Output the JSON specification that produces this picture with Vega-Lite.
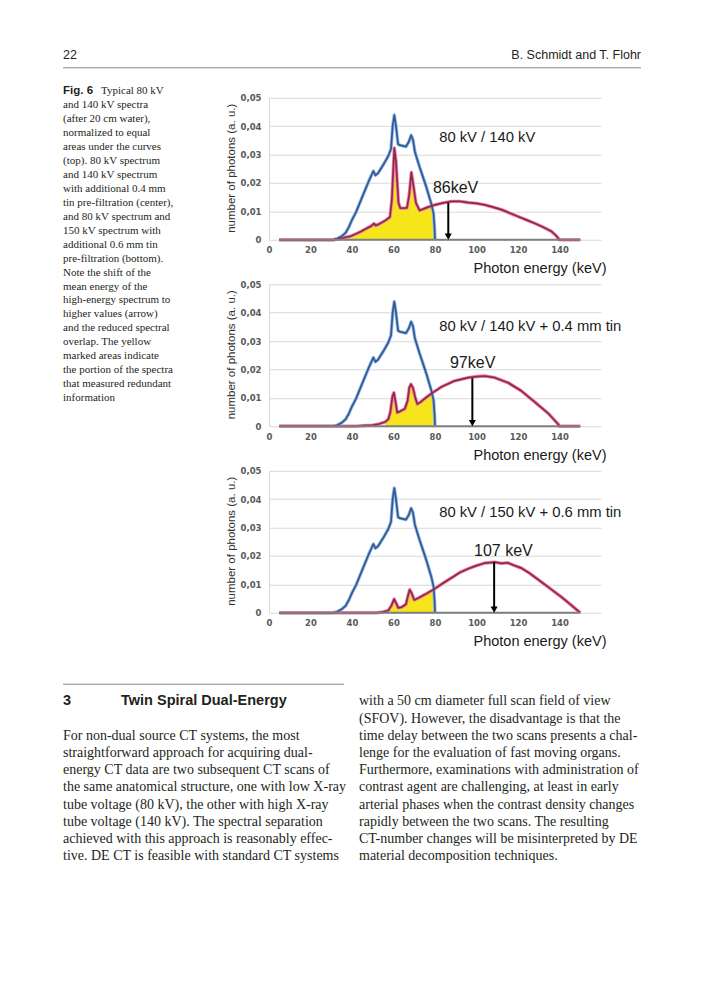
{
  "$schema": "https://vega.github.io/schema/vega-lite/v6.json",
  "background": "white",
  "padding": {"left": 62, "top": 48.75, "right": 0, "bottom": 0},
  "autosize": {"type": "pad"},
  "config": {"view": {"stroke": null}, "font": "Liberation Sans"},
  "bounds": "flush",
  "spacing": 76,
  "datasets": {
    "header": [{"side": "left", "text": "22"}, {"side": "right", "text": "B. Schmidt and T. Flohr"}],
    "caption": [
      {"line": 0, "text": "Typical 80 kV", "lead": "Fig. 6"},
      {"line": 1, "text": "and 140 kV spectra"},
      {"line": 2, "text": "(after 20 cm water),"},
      {"line": 3, "text": "normalized to equal"},
      {"line": 4, "text": "areas under the curves"},
      {"line": 5, "text": "(top). 80 kV spectrum"},
      {"line": 6, "text": "and 140 kV spectrum"},
      {"line": 7, "text": "with additional 0.4 mm"},
      {"line": 8, "text": "tin pre-filtration (center),"},
      {"line": 9, "text": "and 80 kV spectrum and"},
      {"line": 10, "text": "150 kV spectrum with"},
      {"line": 11, "text": "additional 0.6 mm tin"},
      {"line": 12, "text": "pre-filtration (bottom)."},
      {"line": 13, "text": "Note the shift of the"},
      {"line": 14, "text": "mean energy of the"},
      {"line": 15, "text": "high-energy spectrum to"},
      {"line": 16, "text": "higher values (arrow)"},
      {"line": 17, "text": "and the reduced spectral"},
      {"line": 18, "text": "overlap. The yellow"},
      {"line": 19, "text": "marked areas indicate"},
      {"line": 20, "text": "the portion of the spectra"},
      {"line": 21, "text": "that measured redundant"},
      {"line": 22, "text": "information"}
    ],
    "body": [
      {"col": 0, "line": 0, "style": "num", "text": "3"},
      {"col": 0, "line": 0, "style": "head", "text": "Twin Spiral Dual-Energy"},
      {"col": 0, "line": 2, "style": "body", "text": "For non-dual source CT systems, the most"},
      {"col": 0, "line": 3, "style": "body", "text": "straightforward approach for acquiring dual-"},
      {"col": 0, "line": 4, "style": "body", "text": "energy CT data are two subsequent CT scans of"},
      {"col": 0, "line": 5, "style": "body", "text": "the same anatomical structure, one with low X-ray"},
      {"col": 0, "line": 6, "style": "body", "text": "tube voltage (80 kV), the other with high X-ray"},
      {"col": 0, "line": 7, "style": "body", "text": "tube voltage (140 kV). The spectral separation"},
      {"col": 0, "line": 8, "style": "body", "text": "achieved with this approach is reasonably effec-"},
      {"col": 0, "line": 9, "style": "body", "text": "tive. DE CT is feasible with standard CT systems"},
      {"col": 1, "line": 0, "style": "body", "text": "with a 50 cm diameter full scan field of view"},
      {"col": 1, "line": 1, "style": "body", "text": "(SFOV). However, the disadvantage is that the"},
      {"col": 1, "line": 2, "style": "body", "text": "time delay between the two scans presents a chal-"},
      {"col": 1, "line": 3, "style": "body", "text": "lenge for the evaluation of fast moving organs."},
      {"col": 1, "line": 4, "style": "body", "text": "Furthermore, examinations with administration of"},
      {"col": 1, "line": 5, "style": "body", "text": "contrast agent are challenging, at least in early"},
      {"col": 1, "line": 6, "style": "body", "text": "arterial phases when the contrast density changes"},
      {"col": 1, "line": 7, "style": "body", "text": "rapidly between the two scans. The resulting"},
      {"col": 1, "line": 8, "style": "body", "text": "CT-number changes will be misinterpreted by DE"},
      {"col": 1, "line": 9, "style": "body", "text": "material decomposition techniques."}
    ]
  },
  "hconcat": [
    {
      "width": 130,
      "height": 515,
      "resolve": {"scale": {"x": "independent", "y": "independent"}},
      "layer": [
        {
          "data": {"name": "header"},
          "transform": [{"filter": "datum.side == 'left'"}],
          "mark": {"type": "text", "align": "left", "baseline": "middle", "font": "Liberation Sans", "fontSize": 12.5, "color": "#231f20"},
          "encoding": {"x": {"value": 0}, "y": {"value": -43}, "text": {"field": "text"}}
        },
        {
          "data": {"name": "header"},
          "transform": [{"filter": "datum.side == 'right'"}],
          "mark": {"type": "text", "align": "right", "baseline": "middle", "font": "Liberation Sans", "fontSize": 12.5, "color": "#231f20"},
          "encoding": {"x": {"value": 578}, "y": {"value": -43}, "text": {"field": "text"}}
        },
        {
          "data": {"name": "header"},
          "transform": [{"filter": "datum.side == 'left'"}],
          "mark": {"type": "rule", "color": "#8a8a8a", "strokeWidth": 1},
          "encoding": {"x": {"value": 0}, "x2": {"value": 578}, "y": {"value": -30}}
        },
        {
          "data": {"name": "caption"},
          "transform": [{"filter": "datum.line > 0"}],
          "mark": {"type": "text", "align": "left", "baseline": "middle", "font": "Liberation Serif", "fontSize": 11, "color": "#231f20"},
          "encoding": {
            "x": {"value": 0},
            "y": {"field": "line", "type": "quantitative", "scale": {"domain": [0, 22], "range": [-6.3, 300.3]}, "axis": null},
            "text": {"field": "text"}
          }
        },
        {
          "data": {"name": "caption"},
          "transform": [{"filter": "datum.line == 0"}],
          "mark": {"type": "text", "align": "left", "baseline": "middle", "font": "Liberation Serif", "fontSize": 11, "color": "#231f20", "dx": 38},
          "encoding": {
            "x": {"value": 0},
            "y": {"field": "line", "type": "quantitative", "scale": {"domain": [0, 22], "range": [-6.3, 300.3]}, "axis": null},
            "text": {"field": "text"}
          }
        },
        {
          "data": {"name": "caption"},
          "transform": [{"filter": "datum.line == 0"}],
          "mark": {"type": "text", "align": "left", "baseline": "middle", "font": "Liberation Sans", "fontWeight": "bold", "fontSize": 11.5, "color": "#231f20"},
          "encoding": {
            "x": {"value": 0},
            "y": {"field": "line", "type": "quantitative", "scale": {"domain": [0, 22], "range": [-6.3, 300.3]}, "axis": null},
            "text": {"field": "lead"}
          }
        },
        {
          "data": {"name": "body"},
          "transform": [{"filter": "datum.style == 'body'"}],
          "mark": {"type": "text", "align": "left", "baseline": "middle", "font": "Liberation Serif", "fontSize": 14, "color": "#231f20"},
          "encoding": {
            "x": {"field": "col", "type": "quantitative", "scale": {"domain": [0, 1], "range": [0, 296]}, "axis": null},
            "y": {"field": "line", "type": "quantitative", "scale": {"domain": [0, 10], "range": [603.7, 775.7]}, "axis": null},
            "text": {"field": "text"}
          }
        },
        {
          "data": {"name": "body"},
          "transform": [{"filter": "datum.style == 'num'"}],
          "mark": {"type": "text", "align": "left", "baseline": "middle", "font": "Liberation Sans", "fontWeight": "bold", "fontSize": 14.5, "color": "#231f20"},
          "encoding": {
            "x": {"field": "col", "type": "quantitative", "scale": {"domain": [0, 1], "range": [0, 296]}, "axis": null},
            "y": {"field": "line", "type": "quantitative", "scale": {"domain": [0, 10], "range": [603.7, 775.7]}, "axis": null},
            "text": {"field": "text"}
          }
        },
        {
          "data": {"name": "body"},
          "transform": [{"filter": "datum.style == 'head'"}],
          "mark": {"type": "text", "align": "left", "baseline": "middle", "font": "Liberation Sans", "fontWeight": "bold", "fontSize": 14.5, "color": "#231f20", "dx": 58},
          "encoding": {
            "x": {"field": "col", "type": "quantitative", "scale": {"domain": [0, 1], "range": [0, 296]}, "axis": null},
            "y": {"field": "line", "type": "quantitative", "scale": {"domain": [0, 10], "range": [603.7, 775.7]}, "axis": null},
            "text": {"field": "text"}
          }
        },
        {
          "data": {"name": "body"},
          "transform": [{"filter": "datum.style == 'num'"}],
          "mark": {"type": "rule", "color": "#8a8a8a", "strokeWidth": 1},
          "encoding": {"x": {"value": 0}, "x2": {"value": 281}, "y": {"value": 586.5}}
        }
      ]
    },
    {
      "data": {"values": [
        {"panel":1,"kind":"blue","e":5,"v":0},{"panel":1,"kind":"blue","e":31,"v":0},{"panel":1,"kind":"blue","e":33,"v":0.0004},{"panel":1,"kind":"blue","e":35,"v":0.0012},{"panel":1,"kind":"blue","e":37,"v":0.0025},{"panel":1,"kind":"blue","e":38.5,"v":0.0045},{"panel":1,"kind":"blue","e":40,"v":0.007},{"panel":1,"kind":"blue","e":42,"v":0.0098},{"panel":1,"kind":"blue","e":45,"v":0.0152},{"panel":1,"kind":"blue","e":48,"v":0.0205},{"panel":1,"kind":"blue","e":50.3,"v":0.0242},{"panel":1,"kind":"blue","e":51.3,"v":0.0227},{"panel":1,"kind":"blue","e":52.5,"v":0.0234},{"panel":1,"kind":"blue","e":55,"v":0.0263},{"panel":1,"kind":"blue","e":57.5,"v":0.0295},{"panel":1,"kind":"blue","e":58.8,"v":0.032},{"panel":1,"kind":"blue","e":59.6,"v":0.04},{"panel":1,"kind":"blue","e":60.4,"v":0.0439},{"panel":1,"kind":"blue","e":61.2,"v":0.04},{"panel":1,"kind":"blue","e":62.2,"v":0.0337},{"panel":1,"kind":"blue","e":63,"v":0.0333},{"panel":1,"kind":"blue","e":66,"v":0.0328},{"panel":1,"kind":"blue","e":67.4,"v":0.0345},{"panel":1,"kind":"blue","e":68.5,"v":0.0368},{"panel":1,"kind":"blue","e":69.4,"v":0.0352},{"panel":1,"kind":"blue","e":70.3,"v":0.031},{"panel":1,"kind":"blue","e":72.5,"v":0.0258},{"panel":1,"kind":"blue","e":75.7,"v":0.0188},{"panel":1,"kind":"blue","e":78.2,"v":0.0127},{"panel":1,"kind":"blue","e":79.3,"v":0.0092},{"panel":1,"kind":"blue","e":79.8,"v":0.004},{"panel":1,"kind":"blue","e":80,"v":0},
        {"panel":2,"kind":"blue","e":5,"v":0},{"panel":2,"kind":"blue","e":31,"v":0},{"panel":2,"kind":"blue","e":33,"v":0.0004},{"panel":2,"kind":"blue","e":35,"v":0.0012},{"panel":2,"kind":"blue","e":37,"v":0.0025},{"panel":2,"kind":"blue","e":38.5,"v":0.0045},{"panel":2,"kind":"blue","e":40,"v":0.007},{"panel":2,"kind":"blue","e":42,"v":0.0098},{"panel":2,"kind":"blue","e":45,"v":0.0152},{"panel":2,"kind":"blue","e":48,"v":0.0205},{"panel":2,"kind":"blue","e":50.3,"v":0.0242},{"panel":2,"kind":"blue","e":51.3,"v":0.0227},{"panel":2,"kind":"blue","e":52.5,"v":0.0234},{"panel":2,"kind":"blue","e":55,"v":0.0263},{"panel":2,"kind":"blue","e":57.5,"v":0.0295},{"panel":2,"kind":"blue","e":58.8,"v":0.032},{"panel":2,"kind":"blue","e":59.6,"v":0.04},{"panel":2,"kind":"blue","e":60.4,"v":0.0439},{"panel":2,"kind":"blue","e":61.2,"v":0.04},{"panel":2,"kind":"blue","e":62.2,"v":0.0337},{"panel":2,"kind":"blue","e":63,"v":0.0333},{"panel":2,"kind":"blue","e":66,"v":0.0328},{"panel":2,"kind":"blue","e":67.4,"v":0.0345},{"panel":2,"kind":"blue","e":68.5,"v":0.0368},{"panel":2,"kind":"blue","e":69.4,"v":0.0352},{"panel":2,"kind":"blue","e":70.3,"v":0.031},{"panel":2,"kind":"blue","e":72.5,"v":0.0258},{"panel":2,"kind":"blue","e":75.7,"v":0.0188},{"panel":2,"kind":"blue","e":78.2,"v":0.0127},{"panel":2,"kind":"blue","e":79.3,"v":0.0092},{"panel":2,"kind":"blue","e":79.8,"v":0.004},{"panel":2,"kind":"blue","e":80,"v":0},
        {"panel":3,"kind":"blue","e":5,"v":0},{"panel":3,"kind":"blue","e":31,"v":0},{"panel":3,"kind":"blue","e":33,"v":0.0004},{"panel":3,"kind":"blue","e":35,"v":0.0012},{"panel":3,"kind":"blue","e":37,"v":0.0025},{"panel":3,"kind":"blue","e":38.5,"v":0.0045},{"panel":3,"kind":"blue","e":40,"v":0.007},{"panel":3,"kind":"blue","e":42,"v":0.0098},{"panel":3,"kind":"blue","e":45,"v":0.0152},{"panel":3,"kind":"blue","e":48,"v":0.0205},{"panel":3,"kind":"blue","e":50.3,"v":0.0242},{"panel":3,"kind":"blue","e":51.3,"v":0.0227},{"panel":3,"kind":"blue","e":52.5,"v":0.0234},{"panel":3,"kind":"blue","e":55,"v":0.0263},{"panel":3,"kind":"blue","e":57.5,"v":0.0295},{"panel":3,"kind":"blue","e":58.8,"v":0.032},{"panel":3,"kind":"blue","e":59.6,"v":0.04},{"panel":3,"kind":"blue","e":60.4,"v":0.0439},{"panel":3,"kind":"blue","e":61.2,"v":0.04},{"panel":3,"kind":"blue","e":62.2,"v":0.0337},{"panel":3,"kind":"blue","e":63,"v":0.0333},{"panel":3,"kind":"blue","e":66,"v":0.0328},{"panel":3,"kind":"blue","e":67.4,"v":0.0345},{"panel":3,"kind":"blue","e":68.5,"v":0.0368},{"panel":3,"kind":"blue","e":69.4,"v":0.0352},{"panel":3,"kind":"blue","e":70.3,"v":0.031},{"panel":3,"kind":"blue","e":72.5,"v":0.0258},{"panel":3,"kind":"blue","e":75.7,"v":0.0188},{"panel":3,"kind":"blue","e":78.2,"v":0.0127},{"panel":3,"kind":"blue","e":79.3,"v":0.0092},{"panel":3,"kind":"blue","e":79.8,"v":0.004},{"panel":3,"kind":"blue","e":80,"v":0},
        {"panel":1,"kind":"pink","e":5,"v":0},{"panel":1,"kind":"pink","e":31,"v":0},{"panel":1,"kind":"pink","e":33,"v":0.0002},{"panel":1,"kind":"pink","e":36,"v":0.0007},{"panel":1,"kind":"pink","e":39.5,"v":0.0013},{"panel":1,"kind":"pink","e":42,"v":0.0021},{"panel":1,"kind":"pink","e":44.3,"v":0.0029},{"panel":1,"kind":"pink","e":47,"v":0.004},{"panel":1,"kind":"pink","e":49.2,"v":0.0048},{"panel":1,"kind":"pink","e":50.6,"v":0.0057},{"panel":1,"kind":"pink","e":51.5,"v":0.005},{"panel":1,"kind":"pink","e":53,"v":0.0055},{"panel":1,"kind":"pink","e":56.3,"v":0.0069},{"panel":1,"kind":"pink","e":58.3,"v":0.008},{"panel":1,"kind":"pink","e":59.2,"v":0.014},{"panel":1,"kind":"pink","e":60.4,"v":0.0323},{"panel":1,"kind":"pink","e":61.2,"v":0.0275},{"panel":1,"kind":"pink","e":62.4,"v":0.013},{"panel":1,"kind":"pink","e":63.3,"v":0.0111},{"panel":1,"kind":"pink","e":66.5,"v":0.0112},{"panel":1,"kind":"pink","e":67.6,"v":0.016},{"panel":1,"kind":"pink","e":68.6,"v":0.0237},{"panel":1,"kind":"pink","e":69.5,"v":0.0195},{"panel":1,"kind":"pink","e":70.8,"v":0.013},{"panel":1,"kind":"pink","e":72.6,"v":0.0103},{"panel":1,"kind":"pink","e":76,"v":0.0113},{"panel":1,"kind":"pink","e":80,"v":0.0123},{"panel":1,"kind":"pink","e":84,"v":0.013},{"panel":1,"kind":"pink","e":88,"v":0.0135},{"panel":1,"kind":"pink","e":92,"v":0.0135},{"panel":1,"kind":"pink","e":96,"v":0.0131},{"panel":1,"kind":"pink","e":100,"v":0.0128},{"panel":1,"kind":"pink","e":104,"v":0.0123},{"panel":1,"kind":"pink","e":108,"v":0.0115},{"panel":1,"kind":"pink","e":112,"v":0.0106},{"panel":1,"kind":"pink","e":116,"v":0.0094},{"panel":1,"kind":"pink","e":120,"v":0.0082},{"panel":1,"kind":"pink","e":124,"v":0.007},{"panel":1,"kind":"pink","e":128,"v":0.0058},{"panel":1,"kind":"pink","e":132,"v":0.0045},{"panel":1,"kind":"pink","e":136,"v":0.003},{"panel":1,"kind":"pink","e":138,"v":0.0017},{"panel":1,"kind":"pink","e":140,"v":0},{"panel":1,"kind":"pink","e":150,"v":0},
        {"panel":2,"kind":"pink","e":5,"v":0},{"panel":2,"kind":"pink","e":42,"v":0},{"panel":2,"kind":"pink","e":45,"v":0.0002},{"panel":2,"kind":"pink","e":50,"v":0.0004},{"panel":2,"kind":"pink","e":53,"v":0.0008},{"panel":2,"kind":"pink","e":56,"v":0.0015},{"panel":2,"kind":"pink","e":57.5,"v":0.0025},{"panel":2,"kind":"pink","e":58.5,"v":0.005},{"panel":2,"kind":"pink","e":59.5,"v":0.0105},{"panel":2,"kind":"pink","e":60.2,"v":0.0118},{"panel":2,"kind":"pink","e":61,"v":0.0085},{"panel":2,"kind":"pink","e":61.8,"v":0.0048},{"panel":2,"kind":"pink","e":63,"v":0.0052},{"panel":2,"kind":"pink","e":65.5,"v":0.0062},{"panel":2,"kind":"pink","e":66.8,"v":0.009},{"panel":2,"kind":"pink","e":67.6,"v":0.0135},{"panel":2,"kind":"pink","e":68.4,"v":0.0148},{"panel":2,"kind":"pink","e":69.4,"v":0.0135},{"panel":2,"kind":"pink","e":70.5,"v":0.01},{"panel":2,"kind":"pink","e":71.5,"v":0.0078},{"panel":2,"kind":"pink","e":73,"v":0.0085},{"panel":2,"kind":"pink","e":75,"v":0.0097},{"panel":2,"kind":"pink","e":78.2,"v":0.0115},{"panel":2,"kind":"pink","e":83,"v":0.0138},{"panel":2,"kind":"pink","e":89.5,"v":0.016},{"panel":2,"kind":"pink","e":96,"v":0.0171},{"panel":2,"kind":"pink","e":100,"v":0.0175},{"panel":2,"kind":"pink","e":104,"v":0.0177},{"panel":2,"kind":"pink","e":108.8,"v":0.0171},{"panel":2,"kind":"pink","e":115.3,"v":0.0153},{"panel":2,"kind":"pink","e":121.7,"v":0.0124},{"panel":2,"kind":"pink","e":128,"v":0.0086},{"panel":2,"kind":"pink","e":134.6,"v":0.0045},{"panel":2,"kind":"pink","e":139.4,"v":0.0007},{"panel":2,"kind":"pink","e":140,"v":0},{"panel":2,"kind":"pink","e":150,"v":0},
        {"panel":3,"kind":"pink","e":5,"v":0},{"panel":3,"kind":"pink","e":52,"v":0},{"panel":3,"kind":"pink","e":55,"v":0.0003},{"panel":3,"kind":"pink","e":57.5,"v":0.0008},{"panel":3,"kind":"pink","e":59,"v":0.0025},{"panel":3,"kind":"pink","e":60.3,"v":0.0048},{"panel":3,"kind":"pink","e":61.2,"v":0.0035},{"panel":3,"kind":"pink","e":62.3,"v":0.0017},{"panel":3,"kind":"pink","e":64,"v":0.002},{"panel":3,"kind":"pink","e":66,"v":0.003},{"panel":3,"kind":"pink","e":67,"v":0.006},{"panel":3,"kind":"pink","e":67.8,"v":0.0081},{"panel":3,"kind":"pink","e":68.8,"v":0.0068},{"panel":3,"kind":"pink","e":70,"v":0.0045},{"panel":3,"kind":"pink","e":72,"v":0.0052},{"panel":3,"kind":"pink","e":76,"v":0.0068},{"panel":3,"kind":"pink","e":80,"v":0.0085},{"panel":3,"kind":"pink","e":84,"v":0.0105},{"panel":3,"kind":"pink","e":88,"v":0.0123},{"panel":3,"kind":"pink","e":92,"v":0.0142},{"panel":3,"kind":"pink","e":96,"v":0.0155},{"panel":3,"kind":"pink","e":100,"v":0.0166},{"panel":3,"kind":"pink","e":104,"v":0.0175},{"panel":3,"kind":"pink","e":108.8,"v":0.0178},{"panel":3,"kind":"pink","e":112,"v":0.0174},{"panel":3,"kind":"pink","e":115,"v":0.0176},{"panel":3,"kind":"pink","e":118,"v":0.0167},{"panel":3,"kind":"pink","e":121.7,"v":0.0157},{"panel":3,"kind":"pink","e":125,"v":0.0142},{"panel":3,"kind":"pink","e":128,"v":0.0126},{"panel":3,"kind":"pink","e":134.6,"v":0.009},{"panel":3,"kind":"pink","e":141,"v":0.0055},{"panel":3,"kind":"pink","e":145.8,"v":0.0026},{"panel":3,"kind":"pink","e":150,"v":0},
        {"panel":1,"kind":"overlap","e":33,"v":0.0002},{"panel":1,"kind":"overlap","e":36,"v":0.0007},{"panel":1,"kind":"overlap","e":39.5,"v":0.0013},{"panel":1,"kind":"overlap","e":42,"v":0.0021},{"panel":1,"kind":"overlap","e":44.3,"v":0.0029},{"panel":1,"kind":"overlap","e":47,"v":0.004},{"panel":1,"kind":"overlap","e":49.2,"v":0.0048},{"panel":1,"kind":"overlap","e":50.6,"v":0.0057},{"panel":1,"kind":"overlap","e":51.5,"v":0.005},{"panel":1,"kind":"overlap","e":53,"v":0.0055},{"panel":1,"kind":"overlap","e":56.3,"v":0.0069},{"panel":1,"kind":"overlap","e":58.3,"v":0.008},{"panel":1,"kind":"overlap","e":59.2,"v":0.014},{"panel":1,"kind":"overlap","e":60.4,"v":0.0323},{"panel":1,"kind":"overlap","e":61.2,"v":0.0275},{"panel":1,"kind":"overlap","e":62.4,"v":0.013},{"panel":1,"kind":"overlap","e":63.3,"v":0.0111},{"panel":1,"kind":"overlap","e":66.5,"v":0.0112},{"panel":1,"kind":"overlap","e":67.6,"v":0.016},{"panel":1,"kind":"overlap","e":68.6,"v":0.0237},{"panel":1,"kind":"overlap","e":69.5,"v":0.0195},{"panel":1,"kind":"overlap","e":70.8,"v":0.013},{"panel":1,"kind":"overlap","e":72.6,"v":0.0103},{"panel":1,"kind":"overlap","e":76,"v":0.0113},{"panel":1,"kind":"overlap","e":78.2,"v":0.012},{"panel":1,"kind":"overlap","e":79.3,"v":0.0092},{"panel":1,"kind":"overlap","e":79.8,"v":0.004},{"panel":1,"kind":"overlap","e":80,"v":0},
        {"panel":2,"kind":"overlap","e":56,"v":0.0015},{"panel":2,"kind":"overlap","e":57.5,"v":0.0025},{"panel":2,"kind":"overlap","e":58.5,"v":0.005},{"panel":2,"kind":"overlap","e":59.5,"v":0.0105},{"panel":2,"kind":"overlap","e":60.2,"v":0.0118},{"panel":2,"kind":"overlap","e":61,"v":0.0085},{"panel":2,"kind":"overlap","e":61.8,"v":0.0048},{"panel":2,"kind":"overlap","e":63,"v":0.0052},{"panel":2,"kind":"overlap","e":65.5,"v":0.0062},{"panel":2,"kind":"overlap","e":66.8,"v":0.009},{"panel":2,"kind":"overlap","e":67.6,"v":0.0135},{"panel":2,"kind":"overlap","e":68.4,"v":0.0148},{"panel":2,"kind":"overlap","e":69.4,"v":0.0135},{"panel":2,"kind":"overlap","e":70.5,"v":0.01},{"panel":2,"kind":"overlap","e":71.5,"v":0.0078},{"panel":2,"kind":"overlap","e":73,"v":0.0085},{"panel":2,"kind":"overlap","e":75,"v":0.0097},{"panel":2,"kind":"overlap","e":78.2,"v":0.0115},{"panel":2,"kind":"overlap","e":79.3,"v":0.0092},{"panel":2,"kind":"overlap","e":79.8,"v":0.004},{"panel":2,"kind":"overlap","e":80,"v":0},
        {"panel":3,"kind":"overlap","e":57.5,"v":0.0008},{"panel":3,"kind":"overlap","e":59,"v":0.0025},{"panel":3,"kind":"overlap","e":60.3,"v":0.0048},{"panel":3,"kind":"overlap","e":61.2,"v":0.0035},{"panel":3,"kind":"overlap","e":62.3,"v":0.0017},{"panel":3,"kind":"overlap","e":64,"v":0.002},{"panel":3,"kind":"overlap","e":66,"v":0.003},{"panel":3,"kind":"overlap","e":67,"v":0.006},{"panel":3,"kind":"overlap","e":67.8,"v":0.0081},{"panel":3,"kind":"overlap","e":68.8,"v":0.0068},{"panel":3,"kind":"overlap","e":70,"v":0.0045},{"panel":3,"kind":"overlap","e":72,"v":0.0052},{"panel":3,"kind":"overlap","e":76,"v":0.0068},{"panel":3,"kind":"overlap","e":78.2,"v":0.0077},{"panel":3,"kind":"overlap","e":79.3,"v":0.0081},{"panel":3,"kind":"overlap","e":79.8,"v":0.004},{"panel":3,"kind":"overlap","e":80,"v":0},
        {"panel":1,"kind":"base","e":5,"e2":150,"v":0},{"panel":2,"kind":"base","e":5,"e2":150,"v":0},{"panel":3,"kind":"base","e":5,"e2":150,"v":0},
        {"panel":1,"kind":"arrow","e":86.4,"v":0.013,"v2":0.0012},{"panel":2,"kind":"arrow","e":98,"v":0.0169,"v2":0.0012},{"panel":3,"kind":"arrow","e":108.5,"v":0.0178,"v2":0.0012},
        {"panel":1,"kind":"head","e":86.4,"v":0.0011},{"panel":2,"kind":"head","e":98,"v":0.0011},{"panel":3,"kind":"head","e":108.5,"v":0.0011},
        {"panel":1,"kind":"title","e":82,"v":0.0359,"text":"80 kV / 140 kV"},{"panel":2,"kind":"title","e":82,"v":0.0349,"text":"80 kV / 140 kV + 0.4 mm tin"},{"panel":3,"kind":"title","e":82,"v":0.0352,"text":"80 kV / 150 kV + 0.6 mm tin"},
        {"panel":1,"kind":"mean","e":79,"v":0.0183,"text":"86keV"},{"panel":2,"kind":"mean","e":87.2,"v":0.0222,"text":"97keV"},{"panel":3,"kind":"mean","e":98.8,"v":0.0218,"text":"107 keV"}
      ]},
      "facet": {"row": {"field": "panel", "type": "ordinal", "header": null}},
      "spacing": {"row": 44.5},
      "bounds": "flush",
      "resolve": {"axis": {"x": "independent"}},
      "spec": {
        "width": 332,
        "height": 142,
        "encoding": {
          "x": {
            "field": "e", "type": "quantitative",
            "scale": {"domain": [0, 160], "nice": false, "zero": false},
            "axis": {
              "title": "Photon energy (keV)", "values": [0, 20, 40, 60, 80, 100, 120, 140], "format": "d",
              "grid": false, "domain": false, "ticks": false, "labelFlush": false,
              "labelFont": "DejaVu Sans", "labelFontWeight": "bold", "labelFontSize": 8.5, "labelColor": "#595959", "labelPadding": 6,
              "titleFont": "Liberation Sans", "titleFontWeight": "normal", "titleFontSize": 14.5, "titleColor": "#1a1a1a",
              "titleX": 337, "titleY": 29, "titleAlign": "right", "titleAnchor": "end", "titleBaseline": "middle"
            }
          },
          "y": {
            "field": "v", "type": "quantitative",
            "scale": {"domain": [0, 0.05], "nice": false},
            "axis": {
              "title": "number of photons (a. u.)", "values": [0, 0.01, 0.02, 0.03, 0.04, 0.05],
              "grid": true, "gridColor": "#d9d9d9", "gridWidth": 1, "domain": true, "domainColor": "#d9d9d9", "ticks": false,
              "labelExpr": "datum.value == 0 ? '0' : replace(format(datum.value, '.2f'), '.', ',')",
              "labelFont": "DejaVu Sans", "labelFontWeight": "bold", "labelFontSize": 8.5, "labelColor": "#595959", "labelPadding": 8,
              "titleFont": "Liberation Sans", "titleFontWeight": "normal", "titleFontSize": 11.5, "titleColor": "#333333",
              "titleAngle": 270, "titleX": -38, "titleY": 70, "titleAlign": "center", "titleBaseline": "middle"
            }
          }
        },
        "layer": [
          {"transform": [{"filter": "datum.kind == 'overlap'"}], "mark": {"type": "area", "color": "#f6e51a", "opacity": 1}},
          {"transform": [{"filter": "datum.kind == 'blue'"}], "mark": {"type": "line", "color": "#8fbbe9", "strokeWidth": 3.4, "strokeJoin": "round"}},
          {"transform": [{"filter": "datum.kind == 'pink'"}], "mark": {"type": "line", "color": "#f27ea2", "strokeWidth": 3.4, "strokeJoin": "round"}},
          {"transform": [{"filter": "datum.kind == 'blue'"}], "mark": {"type": "line", "color": "#37578f", "strokeWidth": 1.7, "strokeJoin": "round"}},
          {"transform": [{"filter": "datum.kind == 'pink'"}], "mark": {"type": "line", "color": "#8b2a4f", "strokeWidth": 1.7, "strokeJoin": "round"}},
          {"transform": [{"filter": "datum.kind == 'base'"}], "mark": {"type": "rule", "color": "#7f7f7f", "strokeWidth": 2}, "encoding": {"x2": {"field": "e2"}}},
          {"transform": [{"filter": "datum.kind == 'arrow'"}], "mark": {"type": "rule", "color": "#000000", "strokeWidth": 2}, "encoding": {"y2": {"field": "v2"}}},
          {"transform": [{"filter": "datum.kind == 'head'"}], "mark": {"type": "point", "shape": "triangle-down", "filled": true, "color": "#000000", "size": 50, "opacity": 1}},
          {"transform": [{"filter": "datum.kind == 'title'"}], "mark": {"type": "text", "align": "left", "baseline": "middle", "font": "Liberation Sans", "fontSize": 14.8, "color": "#1a1a1a"}, "encoding": {"text": {"field": "text"}}},
          {"transform": [{"filter": "datum.kind == 'mean'"}], "mark": {"type": "text", "align": "left", "baseline": "middle", "font": "Liberation Sans", "fontSize": 16, "color": "#1a1a1a"}, "encoding": {"text": {"field": "text"}}}
        ]
      }
    }
  ]
}
